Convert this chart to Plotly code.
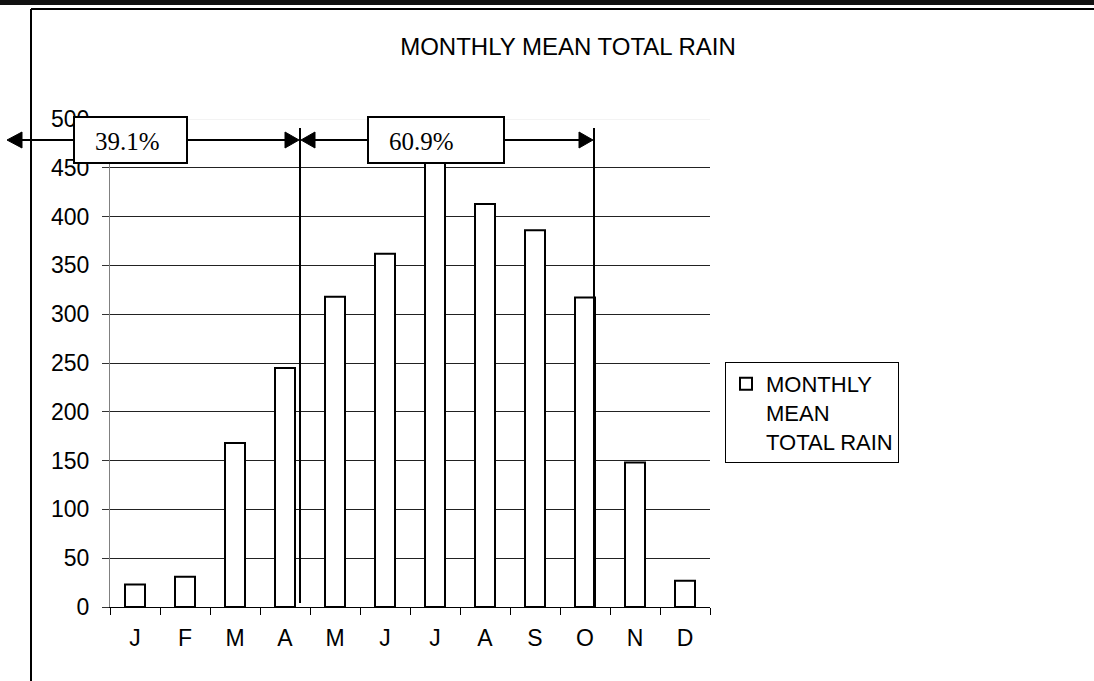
import plotly.graph_objects as go

# ---- data ----
months = ["Jan", "Feb", "Mar", "Apr", "May", "Jun", "Jul", "Aug", "Sep", "Oct", "Nov", "Dec"]
month_labels = ["J", "F", "M", "A", "M", "J", "J", "A", "S", "O", "N", "D"]
rain = [23, 31, 168, 245, 318, 362, 456, 413, 386, 317, 148, 27]
y_ticks = [0, 50, 100, 150, 200, 250, 300, 350, 400, 450, 500]
series_name = "MONTHLY<br>MEAN<br>TOTAL RAIN"
chart_title = "MONTHLY MEAN TOTAL RAIN"
share_labels = ["39.1%", "60.9%"]

# ---- geometry helpers (pixel -> paper) ----
W, H = 1094, 681
L, R, T, B = 110, 384, 119, 74
PW = W - L - R
PH = H - T - B


def px_x(px):
    return (px - L) / PW


def px_y(py):
    return (H - B - py) / PH


fig = go.Figure()
fig.add_trace(go.Bar(
    x=months, y=rain, name=series_name, width=0.4,
    marker=dict(color="white", line=dict(color="black", width=2)),
    showlegend=True,
))

shapes = []
# light top gridline at 500
shapes.append(dict(type="line", xref="paper", yref="y", x0=0, x1=1, y0=500, y1=500,
                   line=dict(color="#e8e8e8", width=1), layer="above"))
blk = dict(color="black", width=2)
# arrow shafts
shapes.append(dict(type="line", xref="paper", yref="paper", x0=px_x(10), x1=px_x(296),
                   y0=px_y(140), y1=px_y(140), line=blk, layer="above"))
shapes.append(dict(type="line", xref="paper", yref="paper", x0=px_x(304), x1=px_x(590),
                   y0=px_y(140), y1=px_y(140), line=blk, layer="above"))
# vertical divider lines
shapes.append(dict(type="line", xref="paper", yref="paper", x0=px_x(300), x1=px_x(300),
                   y0=px_y(128), y1=px_y(603), line=blk, layer="above"))
shapes.append(dict(type="line", xref="paper", yref="paper", x0=px_x(594), x1=px_x(594),
                   y0=px_y(128), y1=px_y(606), line=blk, layer="above"))


def tri(tip, base):
    return (f"M {px_x(tip)},{px_y(140)} L {px_x(base)},{px_y(132)} "
            f"L {px_x(base)},{px_y(148)} Z")


for tip, base in [(7, 22), (299, 285), (301, 315), (593, 579)]:
    shapes.append(dict(type="path", xref="paper", yref="paper", path=tri(tip, base),
                       fillcolor="black", line=dict(color="black", width=1), layer="above"))

# label boxes
for x0, x1 in [(74, 187), (368, 504)]:
    shapes.append(dict(type="rect", xref="paper", yref="paper", x0=px_x(x0), x1=px_x(x1),
                       y0=px_y(163), y1=px_y(117), fillcolor="white",
                       line=blk, layer="above"))

# outer frame
shapes.append(dict(type="rect", xref="paper", yref="paper", x0=px_x(0), x1=px_x(W),
                   y0=px_y(5), y1=px_y(0), fillcolor="#111111", line=dict(width=0), layer="above"))
shapes.append(dict(type="line", xref="paper", yref="paper", x0=px_x(31), x1=px_x(W),
                   y0=px_y(9), y1=px_y(9), line=blk, layer="above"))
shapes.append(dict(type="line", xref="paper", yref="paper", x0=px_x(31), x1=px_x(31),
                   y0=px_y(9), y1=px_y(H), line=blk, layer="above"))

annotations = []
for lbl, xl in zip(share_labels, [93, 387]):
    annotations.append(dict(text=lbl, xref="paper", yref="paper", x=px_x(xl), y=px_y(141),
                            xanchor="left", yanchor="middle", showarrow=False,
                            font=dict(family="Liberation Serif, Times New Roman, serif",
                                      size=25, color="black")))

font_sans = "Liberation Sans, Arial, sans-serif"
fig.update_layout(
    width=W, height=H,
    margin=dict(l=L, r=R, t=T, b=B, pad=0),
    paper_bgcolor="white", plot_bgcolor="white",
    font=dict(family=font_sans, size=23, color="black"),
    title=dict(text=chart_title, x=px_x(568), xref="paper", xanchor="center",
               y=1 - 47 / H, yref="container", yanchor="middle",
               font=dict(family=font_sans, size=24, color="black")),
    showlegend=True,
    legend=dict(x=px_x(725), y=px_y(362), xanchor="left", yanchor="top",
                bordercolor="black", borderwidth=1, bgcolor="white",
                font=dict(family=font_sans, size=22, color="black"), valign="top",
                itemwidth=30),
    shapes=shapes,
    annotations=annotations,
    bargap=0.6,
)
fig.update_xaxes(
    type="category", tickvals=months, ticktext=month_labels, tickson="boundaries",
    ticks="outside", ticklen=7, tickcolor="black", tickwidth=1,
    showline=True, linecolor="black", linewidth=1, showgrid=False,
    ticklabelstandoff=10, range=[-0.5, 11.5],
    tickfont=dict(size=23),
)
fig.update_yaxes(
    range=[0, 500], tickvals=y_ticks, ticks="outside", ticklen=7, tickcolor="#333333",
    showline=True, linecolor="#808080", linewidth=1,
    showgrid=True, gridcolor="#222222", gridwidth=1, zeroline=False,
    ticklabelstandoff=8, tickfont=dict(size=23),
)

fig.write_html("out.html", config={"displayModeBar": False},
               post_script="document.body.style.margin='0';")
